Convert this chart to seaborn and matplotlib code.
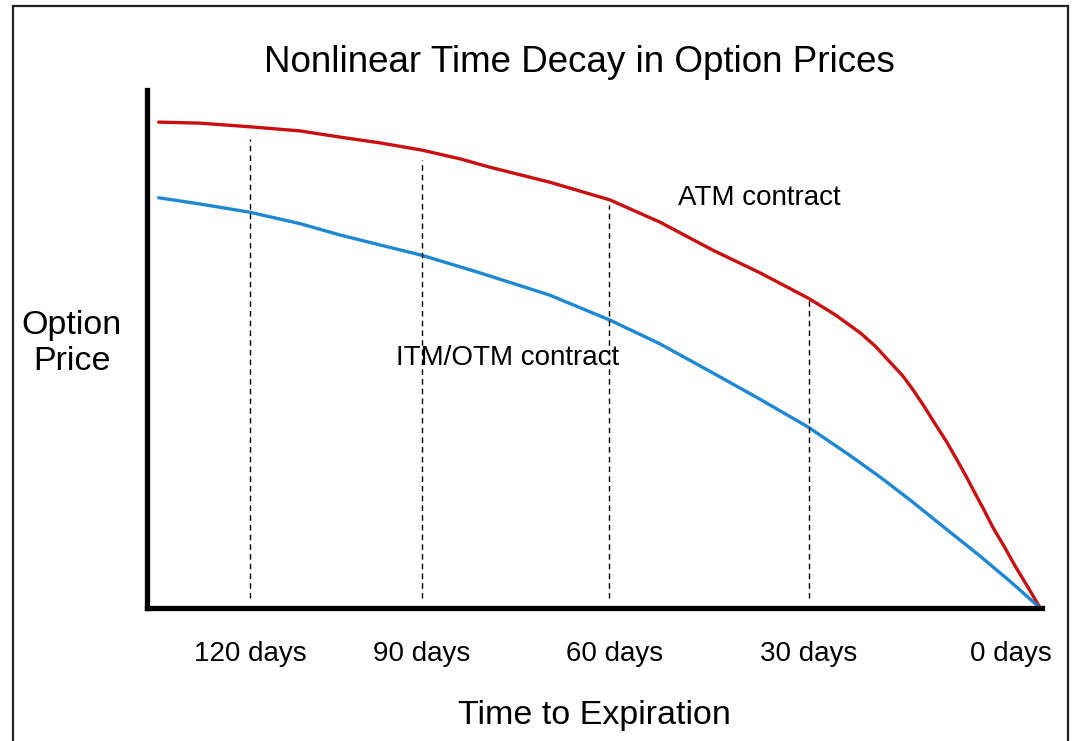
import matplotlib
matplotlib.use('Agg')
import matplotlib.pyplot as plt
import seaborn as sns
import pandas as pd
from matplotlib.patches import Rectangle

# curve values (x = position along time axis 0-100, y = price 0-100)
atm_x = [1.3, 5.9, 11.5, 17.1, 21.6, 26.0, 30.7, 35.0, 38.3, 45.0, 51.7, 57.3, 63.2,
         68.5, 73.9, 76.9, 79.7, 81.4, 83.0, 84.4, 85.6, 86.8, 88.0, 89.3, 90.5,
         91.5, 92.5, 93.5, 94.5, 95.8, 97.0, 98.4, 99.8]
atm_y = [93.8, 93.6, 92.9, 92.1, 90.9, 89.8, 88.4, 86.7, 85.1, 82.2, 78.8, 74.5, 69.1,
         64.7, 59.8, 56.6, 53.1, 50.5, 47.5, 44.9, 42.1, 39.0, 35.7, 32.2, 28.6,
         25.5, 22.2, 19.0, 15.6, 11.8, 8.1, 4.1, 0.0]

itm_x = [1.3, 5.9, 11.5, 17.1, 21.6, 26.0, 30.7, 37.2, 45.0, 51.7, 57.3, 63.2,
         68.5, 73.9, 78.5, 81.9, 85.3, 89.4, 93.1, 96.4, 99.8]
itm_y = [79.2, 78.0, 76.4, 74.2, 72.0, 70.1, 68.1, 64.7, 60.4, 55.6, 51.0, 45.4,
         40.3, 34.9, 29.5, 25.3, 20.8, 15.1, 10.0, 5.2, 0.0]

# dashed guide lines
guide_x = [11.5, 30.7, 51.6, 74.0]
guide_top = [90.5, 86.5, 77.8, 59.5]

# tick labels
tick_pos = [11.5, 30.7, 52.2, 73.9, 96.5]
tick_labels = ['120 days', '90 days', '60 days', '30 days', '0 days']

df_atm = pd.DataFrame({'x': atm_x, 'y': atm_y})
df_itm = pd.DataFrame({'x': itm_x, 'y': itm_y})

sns.set_style('white')
plt.rcParams['font.family'] = ['Liberation Sans', 'DejaVu Sans']
plt.rcParams['text.color'] = 'black'
plt.rcParams['axes.labelcolor'] = 'black'
plt.rcParams['xtick.color'] = 'black'

fig = plt.figure(figsize=(10.72, 7.41), dpi=100)
ax = fig.add_axes([147/1072, 133/741, 895/1072, 518/741])

sns.lineplot(data=df_atm, x='x', y='y', ax=ax, color='#C81010', linewidth=2.4, sort=False)
sns.lineplot(data=df_itm, x='x', y='y', ax=ax, color='#1E88D4', linewidth=2.4, sort=False)

for gx, gt in zip(guide_x, guide_top):
    ax.vlines(gx, 1.9, gt, colors='black', linestyles=(0, (4, 3)), linewidth=1.0)

ax.set_xlim(0, 100)
ax.set_ylim(0, 100)
ax.set_yticks([])
ax.set_xticks(tick_pos, tick_labels)
ax.tick_params(axis='x', length=0, pad=24, labelsize=20)

for s in ['top', 'right']:
    ax.spines[s].set_visible(False)
for s in ['left', 'bottom']:
    ax.spines[s].set_linewidth(3.8)
    ax.spines[s].set_color('black')

ax.set_xlabel('Time to Expiration', fontsize=24.5, va='center')
ax.xaxis.set_label_coords(0.5, -0.208)
ax.set_ylabel('Option\nPrice', fontsize=24.5, rotation=0, ha='center', va='center',
              linespacing=1.2)
ax.yaxis.set_label_coords(-0.084, 0.51)

ax.text(59.3, 79.2, 'ATM contract', fontsize=20, va='center', ha='left')
ax.text(27.8, 48.3, 'ITM/OTM contract', fontsize=20, va='center', ha='left')

fig.text(579/1072, 1 - 63/741, 'Nonlinear Time Decay in Option Prices',
         fontsize=26.5, ha='center', va='center')

fig.add_artist(Rectangle((13/1072, -0.02), 1055/1072, 1 - 6/741 + 0.02,
                         transform=fig.transFigure, fill=False,
                         edgecolor='#222222', linewidth=1.6))

fig.savefig('out.png', dpi=100)
